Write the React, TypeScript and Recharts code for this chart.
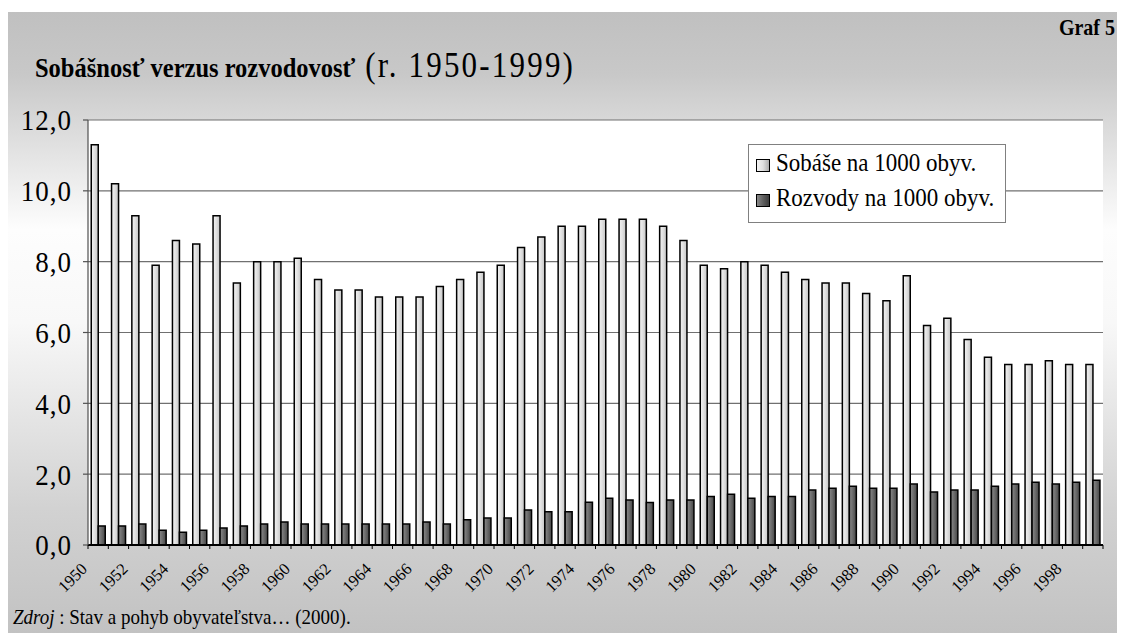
import React from 'react';
import { BarChart, Bar, XAxis, YAxis, CartesianGrid, Legend } from 'recharts';

const years = [
  '1950', '1951', '1952', '1953', '1954', '1955', '1956', '1957', '1958', '1959',
  '1960', '1961', '1962', '1963', '1964', '1965', '1966', '1967', '1968', '1969',
  '1970', '1971', '1972', '1973', '1974', '1975', '1976', '1977', '1978', '1979',
  '1980', '1981', '1982', '1983', '1984', '1985', '1986', '1987', '1988', '1989',
  '1990', '1991', '1992', '1993', '1994', '1995', '1996', '1997', '1998', '1999',
];

const marriages = [
  11.3, 10.2, 9.3, 7.9, 8.6, 8.5, 9.3, 7.4, 8.0, 8.0,
  8.1, 7.5, 7.2, 7.2, 7.0, 7.0, 7.0, 7.3, 7.5, 7.7,
  7.9, 8.4, 8.7, 9.0, 9.0, 9.2, 9.2, 9.2, 9.0, 8.6,
  7.9, 7.8, 8.0, 7.9, 7.7, 7.5, 7.4, 7.4, 7.1, 6.9,
  7.6, 6.2, 6.4, 5.8, 5.3, 5.1, 5.1, 5.2, 5.1, 5.1,
];

const divorces = [
  0.54, 0.54, 0.59, 0.42, 0.36, 0.42, 0.48, 0.54, 0.59, 0.65,
  0.59, 0.59, 0.59, 0.59, 0.59, 0.59, 0.65, 0.59, 0.71, 0.76,
  0.76, 0.99, 0.94, 0.94, 1.21, 1.32, 1.27, 1.2, 1.27, 1.27,
  1.37, 1.43, 1.32, 1.37, 1.37, 1.55, 1.6, 1.66, 1.6, 1.6,
  1.72, 1.5, 1.55, 1.55, 1.66, 1.72, 1.77, 1.72, 1.77, 1.83,
];

const yTicks = [0, 2, 4, 6, 8, 10, 12];
const labeledYears = [
  '1950', '1952', '1954', '1956', '1958', '1960', '1962', '1964', '1966', '1968',
  '1970', '1972', '1974', '1976', '1978', '1980', '1982', '1984', '1986', '1988',
  '1990', '1992', '1994', '1996', '1998',
];

const seriesNames = ['Sobáše na 1000 obyv.', 'Rozvody na 1000 obyv.'];
const titleBold = 'Sobášnosť verzus rozvodovosť';
const titleRest = ' (r. 1950-1999)';
const graphLabel = 'Graf 5';
const sourceItalic = 'Zdroj';
const sourceRest = ' : Stav a pohyb obyvateľstva… (2000).';

const data = years.map((year, i) => ({ year, sob: marriages[i], roz: divorces[i] }));

const FONT = 'Liberation Serif, DejaVu Serif, serif';
const W = 1117;
const H = 621;
const MARGIN = { top: 108, right: 22, bottom: 28, left: 0 };
const Y_AXIS_W = 80;
const X_AXIS_H = 60;
const PLOT_W = W - MARGIN.left - MARGIN.right - Y_AXIS_W;
const BAND = PLOT_W / years.length;

const XTick = (props: any) => {
  const { x, y, payload, index } = props;
  const half = BAND / 2;
  const show = labeledYears.includes(payload.value);
  const tx = x - 10;
  const ty = y + 25;
  return (
    <g>
      <line x1={x - half} x2={x - half} y1={y} y2={y + 4} stroke="#000" strokeWidth={1} />
      {index === years.length - 1 && (
        <line x1={x + half} x2={x + half} y1={y} y2={y + 4} stroke="#000" strokeWidth={1} />
      )}
      {show && (
        <text
          x={tx}
          y={ty}
          textAnchor="end"
          transform={`rotate(-45, ${tx}, ${ty})`}
          style={{ fontFamily: FONT, fontSize: 16.5 }}
          fill="#000"
        >
          {payload.value}
        </text>
      )}
    </g>
  );
};

const YTick = (props: any) => {
  const { x, y, payload } = props;
  return (
    <text
      x={0}
      y={0}
      dy="0.35em"
      textAnchor="end"
      transform={`translate(${x}, ${y}) scale(1, 1.1)`}
      style={{ fontFamily: FONT, fontSize: 27, letterSpacing: 1 }}
      fill="#000"
    >
      {Number(payload.value).toFixed(1).replace('.', ',')}
    </text>
  );
};

const renderLegend = () => (
  <svg width={258} height={79} style={{ display: 'block' }}>
    <defs>
      <linearGradient id="lgLight" x1="0" y1="0" x2="1" y2="0">
        <stop offset="0%" stopColor="#f4f4f4" />
        <stop offset="50%" stopColor="#e0e0e0" />
        <stop offset="100%" stopColor="#a8a8a8" />
      </linearGradient>
      <linearGradient id="lgDark" x1="0" y1="0" x2="1" y2="0">
        <stop offset="0%" stopColor="#8c8c8c" />
        <stop offset="50%" stopColor="#606060" />
        <stop offset="100%" stopColor="#3a3a3a" />
      </linearGradient>
    </defs>
    <rect x={0.5} y={0.5} width={257} height={78} fill="#fff" stroke="#808080" strokeWidth={1} />
    <rect x={8.5} y={15.5} width={13} height={12} fill="url(#lgLight)" stroke="#000" strokeWidth={1} />
    <rect x={8.5} y={50.5} width={13} height={12} fill="url(#lgDark)" stroke="#000" strokeWidth={1} />
    <text transform="translate(28, 27) scale(1, 1.12)" style={{ fontFamily: FONT, fontSize: 23 }} fill="#000">{seriesNames[0]}</text>
    <text transform="translate(28, 62) scale(1, 1.12)" style={{ fontFamily: FONT, fontSize: 23 }} fill="#000">{seriesNames[1]}</text>
  </svg>
);

export default function App() {
  return (
    <div
      style={{
        position: 'relative',
        width: W,
        height: H,
        marginTop: 4,
        background:
          'linear-gradient(to bottom, #c0c0c0 0%, #c8c8c8 10%, #fdfdfd 35%, #f8f8f8 50%, #d2d2d2 80%, #c2c2c2 100%)',
        fontFamily: FONT,
      }}
    >
      <BarChart
        width={W}
        height={H}
        data={data}
        margin={MARGIN}
        barCategoryGap="16%"
        barGap={0}
        style={{ position: 'absolute', left: 0, top: 0, fontFamily: FONT }}
      >
        <defs>
          <linearGradient id="gLight" x1="0" y1="0" x2="1" y2="0">
            <stop offset="0%" stopColor="#f2f2f2" />
            <stop offset="45%" stopColor="#e2e2e2" />
            <stop offset="100%" stopColor="#c4c4c4" />
          </linearGradient>
          <linearGradient id="gDark" x1="0" y1="0" x2="1" y2="0">
            <stop offset="0%" stopColor="#8a8a8a" />
            <stop offset="50%" stopColor="#6a6a6a" />
            <stop offset="100%" stopColor="#454545" />
          </linearGradient>
        </defs>
        <CartesianGrid vertical={false} stroke="#707070" strokeWidth={1.2} fill="#ffffff" />
        <XAxis
          dataKey="year"
          interval={0}
          height={X_AXIS_H}
          tickSize={0}
          tickMargin={0}
          tickLine={false}
          axisLine={{ stroke: '#000', strokeWidth: 2 }}
          tick={<XTick />}
        />
        <YAxis
          width={Y_AXIS_W}
          domain={[0, 12]}
          ticks={yTicks}
          interval={0}
          tickSize={5}
          tickMargin={11}
          axisLine={{ stroke: '#505050', strokeWidth: 1.2 }}
          tickLine={{ stroke: '#505050', strokeWidth: 1.2 }}
          tick={<YTick />}
        />
        <Legend
          content={renderLegend}
          layout="vertical"
          align="center"
          verticalAlign="middle"
          wrapperStyle={{ position: 'absolute', left: 740, top: 132, width: 258, height: 79 }}
        />
        <Bar dataKey="sob" name={seriesNames[0]} fill="url(#gLight)" stroke="#000" strokeWidth={1.5} isAnimationActive={false} />
        <Bar dataKey="roz" name={seriesNames[1]} fill="url(#gDark)" stroke="#000" strokeWidth={1.5} isAnimationActive={false} />
      </BarChart>
      <svg
        width={W}
        height={H}
        style={{ position: 'absolute', left: 0, top: 0, pointerEvents: 'none', fontFamily: FONT }}
      >
        <text transform="translate(27, 65) scale(1, 1.15)" fill="#000">
          <tspan fontWeight="bold" fontSize={24.5}>{titleBold}</tspan>
          <tspan fontSize={31} letterSpacing={2.2}>{titleRest}</tspan>
        </text>
        <text transform="translate(1107, 23) scale(1, 1.15)" textAnchor="end" fontWeight="bold" fontSize={20} fill="#000">
          {graphLabel}
        </text>
        <text transform="translate(5, 612) scale(1, 1.12)" fontSize={19} fill="#000">
          <tspan fontStyle="italic">{sourceItalic}</tspan>
          <tspan>{sourceRest}</tspan>
        </text>
      </svg>
    </div>
  );
}
